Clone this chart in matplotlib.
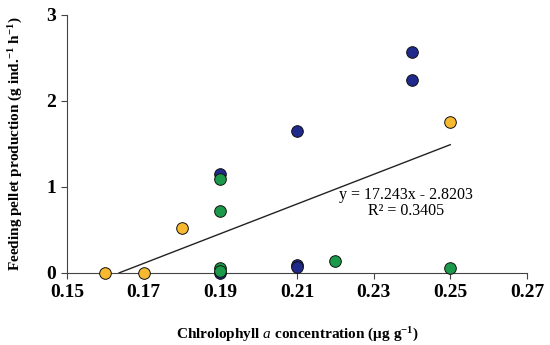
import numpy as np
import matplotlib.pyplot as plt

plt.rcParams['font.family'] = ['Liberation Serif', 'DejaVu Serif']
plt.rcParams['mathtext.fontset'] = 'custom'
plt.rcParams['mathtext.rm'] = 'Liberation Serif'
plt.rcParams['mathtext.it'] = 'Liberation Serif:italic'
plt.rcParams['mathtext.bf'] = 'Liberation Serif:bold'

# data
blue_x = [0.24, 0.24, 0.21, 0.19, 0.21, 0.21, 0.19]
blue_y = [2.57, 2.24, 1.65, 1.15, 0.09, 0.07, 0.0]
green_x = [0.19, 0.19, 0.19, 0.19, 0.22, 0.25]
green_y = [1.09, 0.72, 0.06, 0.02, 0.14, 0.06]
yellow_x = [0.16, 0.17, 0.18, 0.25]
yellow_y = [0.0, 0.0, 0.52, 1.75]
slope, intercept = 17.243, -2.8203
r2 = 0.3405
xticks = [0.15, 0.17, 0.19, 0.21, 0.23, 0.25, 0.27]
yticks = [0, 1, 2, 3]

fig = plt.figure(figsize=(5.5, 3.45), dpi=100)
ax = fig.add_axes([0.122, 0.209, 0.836, 0.748])

ms = 70
ax.scatter(blue_x, blue_y, s=ms, color='#1f2a8c', edgecolor='#111111', linewidth=0.7, zorder=3, clip_on=False)
ax.scatter(green_x, green_y, s=ms, color='#1b9a4a', edgecolor='#111111', linewidth=0.7, zorder=4, clip_on=False)
ax.scatter(yellow_x, yellow_y, s=ms, color='#f6b92f', edgecolor='#111111', linewidth=0.7, zorder=5, clip_on=False)

# trendline
x0 = -intercept / slope
xl = np.array([x0, max(yellow_x)])
ax.plot(xl, slope * xl + intercept, color='#222222', linewidth=1.0, zorder=2)
ax.text(0.2384, 0.81, 'y = %.3fx - %.4f\nR² = %.4f' % (slope, -intercept, r2), ha='center', va='center',
        fontsize=11.5, linespacing=1.0)

ax.set_xlim(0.15, 0.27)
ax.set_ylim(0, 3)
ax.set_xticks(xticks)
ax.set_yticks(yticks)
ax.set_xticklabels(['%.2f' % t for t in xticks], fontweight='bold', fontsize=14)
ax.set_yticklabels([str(t) for t in yticks], fontweight='bold', fontsize=14)
for s in ['top', 'right']:
    ax.spines[s].set_visible(False)
for s in ['left', 'bottom']:
    ax.spines[s].set_color('#444444')
ax.tick_params(direction='out', length=4, color='#444444', pad=4)

ax.set_xlabel(r'Chlrolophyll $\mathit{a}$ concentration (μg g$^{\mathbf{-1}}$)', fontweight='bold', fontsize=11, labelpad=18)
ax.set_ylabel(r'Feeding pellet production (g ind.$^{\mathbf{-1}}$ h$^{\mathbf{-1}}$)', fontweight='bold', fontsize=11, labelpad=15)

fig.savefig('out.png', dpi=100)
